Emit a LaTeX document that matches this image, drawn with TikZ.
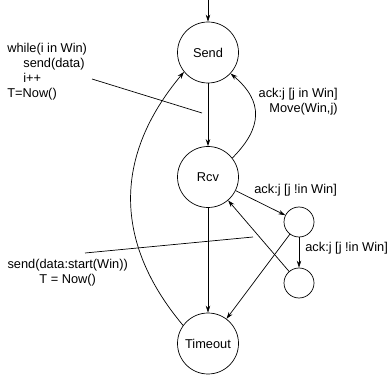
\documentclass[tikz,border=0pt]{standalone}
\usepackage{fontspec}
\setmainfont{Liberation Sans}
\usepackage{tikz}
\usetikzlibrary{calc,arrows.meta}
\tikzset{>={Stealth[length=7pt, width=4.5pt]}}
\tikzset{
    state/.style={draw, circle, minimum size=61pt, inner sep=0pt},
    substate/.style={draw, circle, minimum size=30pt, inner sep=0pt},
    note/.style={inner sep=0pt}
}

\begin{document}
\begin{tikzpicture}[x=1pt, y=1pt, line width=0.7pt, font=\fontsize{12.8}{15}\selectfont]
    \useasboundingbox (0,0) rectangle (391,375);
    \def\xm{208};

    \node[state] (send) at (\xm, 322.5) {Send};
    \node[state] (rcv) at (\xm, 198) {Rcv};
    \node[state] (timeout) at (\xm, 31.5) {Timeout};
    \node[substate] (wait) at (299, 153) {};
    \node[substate] (wait2) at (299, 92) {};

    \coordinate (entry) at (\xm, 375);
    \draw[->] (entry) -- (send);
    \draw[->] (send) -- (rcv);
    \draw[->] (rcv) -- (timeout);

    % acks
    \draw[->] (rcv.38) to[out=45, in=-40, looseness=1.3] (send.-43);
    \draw[->] (rcv) -- (wait);
    \draw[->] (wait) -- (wait2);
    \draw[->] (wait2) -- (rcv);
    \draw[->] (wait) -- (timeout);

    % timeout
    \draw[->] (timeout.144) to[out=130, in=-130, looseness=1.1] (send.219);

    \node[note, anchor=east, align=right] (ackin) at (338, 273.5) {ack:j [j in Win]\\Move(Win,j)};
    \node[note, anchor=west] (ackout) at (254, 185) {ack:j [j !in Win]};
    \node[note, anchor=west] (ackout2) at (305, 127) {ack:j [j !in Win]};

    \node[note, anchor=west, align=left] (loop) at (7, 303.5)
        {while(i in Win)\\\hspace*{16pt}send(data)\\\hspace*{16pt}i++\\T=Now()};
    \node[note, align=center] (restart) at (67.7, 102) {send(data:start(Win))\\T = Now()};

    \coordinate (a1) at (92, 296);
    \coordinate (a2) at (202, 262);
    \draw (a1) -- (a2);
    \coordinate (b1) at (85, 122);
    \coordinate (b2) at (253, 138);
    \draw (b1) -- (b2);

\end{tikzpicture}
\end{document}
